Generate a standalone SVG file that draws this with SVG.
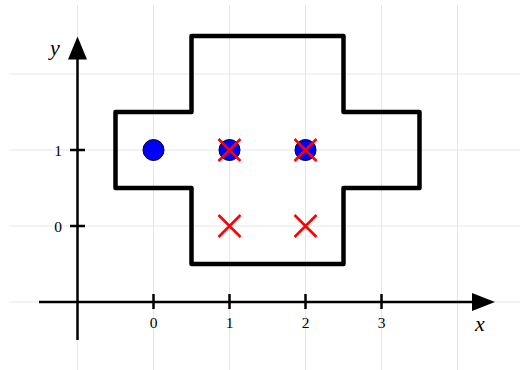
<svg xmlns="http://www.w3.org/2000/svg" width="520" height="370" viewBox="0 0 520 370">
<style>
.grid{stroke:#e6e6e6;stroke-width:1;fill:none}
.axis{stroke:#000;stroke-width:2.5;fill:none}
.tick{stroke:#000;stroke-width:2.5}
.shape{stroke:#000;stroke-width:4.5;fill:none;stroke-linejoin:round}
.dot{fill:#0000ff;stroke:#000;stroke-width:1}
.cross{stroke:#ff0000;stroke-width:2.5;fill:none}
.lbl{font-family:"Liberation Serif","DejaVu Serif",serif;font-size:15.5px;fill:#000;text-anchor:middle}
.var{font-family:"Liberation Serif","DejaVu Serif",serif;font-style:italic;font-size:22px;fill:#000;text-anchor:middle}
</style>
<g id="grid">
<path class="grid" d="M77.5 5V370M153.5 5V370M229.5 5V370M305.5 5V370M381.5 5V370M457.5 5V370M9 74H520M9 150H520M9 226H520M9 302H520"/>
</g>
<g id="axes">
<line class="axis" x1="39" y1="302" x2="474" y2="302"/>
<polygon points="472,293 495,302 472,311" fill="#000"/>
<line class="axis" x1="77.5" y1="340" x2="77.5" y2="58"/>
<polygon points="68,59.5 77.5,36.5 87,59.5" fill="#000"/>
<path class="tick" d="M153.5 294V309M229.5 294V309M305.5 294V309M381.5 294V309M70 226H85M70 150H85"/>
<text class="lbl" x="153.5" y="328">0</text>
<text class="lbl" x="229.5" y="328">1</text>
<text class="lbl" x="305.5" y="328">2</text>
<text class="lbl" x="381.5" y="328">3</text>
<text class="lbl" x="58" y="231.5">0</text>
<text class="lbl" x="58" y="155.5">1</text>
<text class="var" x="480" y="331">x</text>
<text class="var" x="55" y="55">y</text>
</g>
<g id="shape">
<polygon class="shape" points="115.5,112 191.5,112 191.5,36 343.5,36 343.5,112 419.5,112 419.5,188 343.5,188 343.5,264 191.5,264 191.5,188 115.5,188"/>
</g>
<g id="points">
<circle class="dot" cx="153.5" cy="150" r="10.5"/>
<circle class="dot" cx="229.5" cy="150" r="10.5"/>
<circle class="dot" cx="305.5" cy="150" r="10.5"/>
</g>
<g id="crosses">
<path class="cross" d="M218.5 139L240.5 161M240.5 139L218.5 161"/>
<path class="cross" d="M294.5 139L316.5 161M316.5 139L294.5 161"/>
<path class="cross" d="M218.5 215L240.5 237M240.5 215L218.5 237"/>
<path class="cross" d="M294.5 215L316.5 237M316.5 215L294.5 237"/>
</g>
</svg>
